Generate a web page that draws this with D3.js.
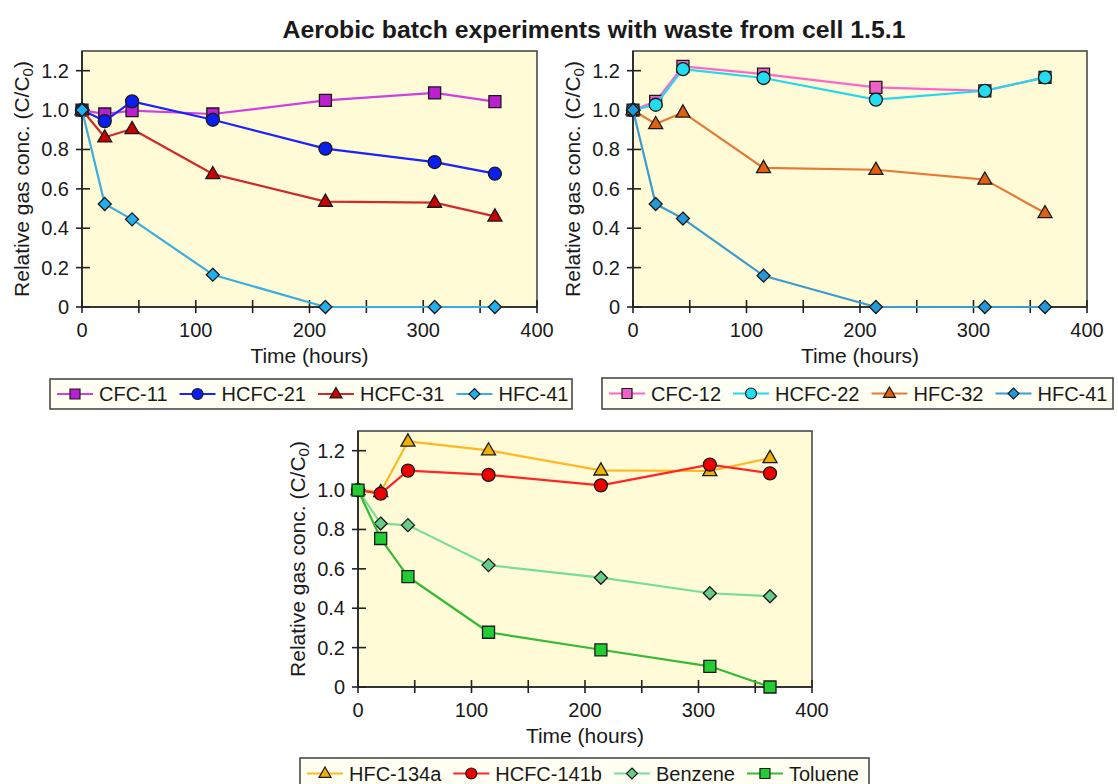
<!DOCTYPE html>
<html>
<head>
<meta charset="utf-8">
<script src="https://cdn.jsdelivr.net/npm/d3@7"></script>
<style>
  body { margin: 0; background: #fff; }
  svg { display: block; font-family: "Liberation Sans", Arial, sans-serif; }
</style>
</head>
<body>
<svg id="chart" width="1118" height="784"></svg>
<script>
// ---- data -------------------------------------------------------------
const hours = [0, 20, 44, 115, 214, 310, 363];
const xTicks = [0, 100, 200, 300, 400];
const xMinorTicks = [50, 150, 250, 350];
const yTicks = [0, 0.2, 0.4, 0.6, 0.8, 1.0, 1.2];
const yTickLabels = ["0", "0.2", "0.4", "0.6", "0.8", "1.0", "1.2"];

const cfc11   = [1.0, 0.98, 0.997, 0.98, 1.049, 1.087, 1.043];
const hcfc21  = [1.0, 0.944, 1.044, 0.951, 0.804, 0.736, 0.677];
const hcfc31  = [1.0, 0.862, 0.904, 0.675, 0.535, 0.53, 0.46];
const hfc41a  = [1.0, 0.523, 0.445, 0.164, 0, 0, 0];

const cfc12   = [1.0, 1.044, 1.222, 1.183, 1.115, 1.098, 1.166];
const hcfc22  = [1.0, 1.027, 1.208, 1.163, 1.053, 1.098, 1.166];
const hfc32   = [1.0, 0.929, 0.988, 0.706, 0.697, 0.647, 0.477];
const hfc41b  = [1.0, 0.523, 0.449, 0.159, 0, 0, 0];

const hfc134a = [1.0, 0.99, 1.247, 1.202, 1.10, 1.097, 1.163];
const hcfc141b= [1.0, 0.982, 1.099, 1.077, 1.024, 1.129, 1.085];
const benzene = [1.0, 0.830, 0.822, 0.619, 0.555, 0.476, 0.461];
const toluene = [1.0, 0.754, 0.560, 0.278, 0.189, 0.105, 0.0];

const titleText = "Aerobic batch experiments with waste from cell 1.5.1";

// ---- layout and styles -------------------------------------------------
const panels = [
  {
    frame: { left: 82, right: 537, bottom: 307, top: 51 },
    legend: { x: 50, y: 379, w: 522, h: 30 },
    series: [
      { name: "CFC-11",  values: cfc11,  line: "#d040e0", fill: "#bb1fd0", shape: "square" },
      { name: "HCFC-21", values: hcfc21, line: "#1a22ff", fill: "#0a1ef0", shape: "circle" },
      { name: "HCFC-31", values: hcfc31, line: "#d02a2a", fill: "#c80000", shape: "triangle" },
      { name: "HFC-41",  values: hfc41a, line: "#3aaee0", fill: "#1fb0f0", shape: "diamond" }
    ]
  },
  {
    frame: { left: 633, right: 1087, bottom: 307, top: 51 },
    legend: { x: 602, y: 378, w: 511, h: 31 },
    series: [
      { name: "CFC-12",  values: cfc12,  line: "#ff66cc", fill: "#ee5fc8", shape: "square" },
      { name: "HCFC-22", values: hcfc22, line: "#22d8ee", fill: "#22dcf0", shape: "circle" },
      { name: "HFC-32",  values: hfc32,  line: "#e57a35", fill: "#e06010", shape: "triangle" },
      { name: "HFC-41",  values: hfc41b, line: "#3a9cd0", fill: "#2299dd", shape: "diamond" }
    ]
  },
  {
    frame: { left: 358, right: 812, bottom: 687, top: 431 },
    legend: { x: 300, y: 758, w: 569, h: 31 },
    series: [
      { name: "HFC-134a",  values: hfc134a,  line: "#ffb820", fill: "#f0b000", shape: "triangle" },
      { name: "HCFC-141b", values: hcfc141b, line: "#ff2626", fill: "#ee0000", shape: "circle" },
      { name: "Benzene",   values: benzene,  line: "#77dd99", fill: "#66cc88", shape: "diamond" },
      { name: "Toluene",   values: toluene,  line: "#33bb33", fill: "#22cc33", shape: "square" }
    ]
  }
];

const svg = d3.select("#chart");
const tickFont = 20;
const titleFont = 21;
const ink = "#1a1a1a";

function markerPath(shape, s) {
  // s = nominal marker size in px
  const p = d3.path();
  if (shape === "square") {
    const h = s / 2;
    p.rect(-h, -h, s, s);
  } else if (shape === "circle") {
    p.arc(0, 0, s / 2 + 0.5, 0, 2 * Math.PI);
  } else if (shape === "triangle") {
    const w = s + 2, h = w * 0.87;
    p.moveTo(0, -h * 0.62); p.lineTo(w / 2, h * 0.38); p.lineTo(-w / 2, h * 0.38); p.closePath();
  } else if (shape === "diamond") {
    const r = s / 2 + 0.5;
    p.moveTo(0, -r); p.lineTo(r, 0); p.lineTo(0, r); p.lineTo(-r, 0); p.closePath();
  }
  return p.toString();
}

// ---- title -------------------------------------------------------------
svg.append("text")
  .attr("x", 594).attr("y", 38)
  .attr("text-anchor", "middle")
  .attr("font-size", 24.8).attr("font-weight", "bold")
  .attr("fill", ink)
  .text(titleText);

// ---- panels ------------------------------------------------------------
panels.forEach(panel => {
  const f = panel.frame;
  const x = d3.scaleLinear().domain([0, 400]).range([f.left, f.right]);
  const y = d3.scaleLinear().domain([0, 1.3]).range([f.bottom, f.top]);
  const g = svg.append("g");

  // plot area
  g.append("rect")
    .attr("x", f.left).attr("y", f.top)
    .attr("width", f.right - f.left).attr("height", f.bottom - f.top)
    .attr("fill", "#fffbd6").attr("stroke", "#4a4a4a").attr("stroke-width", 1.6);

  // x axis (ticks cross the axis line)
  const xAxis = g.append("g");
  xAxis.append("line")
    .attr("x1", f.left).attr("x2", f.right).attr("y1", f.bottom).attr("y2", f.bottom)
    .attr("stroke", "#222").attr("stroke-width", 1.6);
  xAxis.selectAll("line.tick").data(xTicks.concat(xMinorTicks)).join("line")
    .attr("class", "tick")
    .attr("x1", d => x(d)).attr("x2", d => x(d))
    .attr("y1", f.bottom - 7).attr("y2", f.bottom + 6)
    .attr("stroke", "#222").attr("stroke-width", 1.6);
  xAxis.selectAll("text").data(xTicks).join("text")
    .attr("x", d => x(d)).attr("y", f.bottom + 30)
    .attr("text-anchor", "middle").attr("font-size", tickFont).attr("fill", ink)
    .text(d => d);

  // y axis
  const yAxis = g.append("g");
  yAxis.append("line")
    .attr("x1", f.left).attr("x2", f.left).attr("y1", f.top).attr("y2", f.bottom)
    .attr("stroke", "#222").attr("stroke-width", 1.6);
  yAxis.selectAll("line.tick").data(yTicks).join("line")
    .attr("class", "tick")
    .attr("x1", f.left - 6).attr("x2", f.left + 8)
    .attr("y1", d => y(d)).attr("y2", d => y(d))
    .attr("stroke", "#222").attr("stroke-width", 1.6);
  yAxis.selectAll("text").data(yTicks).join("text")
    .attr("x", f.left - 13).attr("y", d => y(d)).attr("dy", "0.35em")
    .attr("text-anchor", "end").attr("font-size", tickFont).attr("fill", ink)
    .text((d, i) => yTickLabels[i]);

  // axis titles
  g.append("text")
    .attr("x", (f.left + f.right) / 2).attr("y", f.bottom + 56)
    .attr("text-anchor", "middle").attr("font-size", titleFont).attr("fill", ink)
    .text("Time (hours)");
  const yt = g.append("text")
    .attr("transform", `translate(${f.left - 53},${(f.top + f.bottom) / 2}) rotate(-90)`)
    .attr("text-anchor", "middle").attr("font-size", titleFont).attr("fill", ink);
  yt.append("tspan").text("Relative gas conc. (C/C");
  yt.append("tspan").attr("font-size", 15).attr("dy", 4).text("0");
  yt.append("tspan").attr("dy", -4).text(")");

  // series: straight line segments, then markers
  const lineGen = d3.line()
    .x((d, i) => x(hours[i]))
    .y(d => y(d));

  panel.series.forEach(s => {
    g.append("path")
      .attr("d", lineGen(s.values))
      .attr("fill", "none").attr("stroke", s.line).attr("stroke-width", 2.2)
      .attr("stroke-linejoin", "round");
    g.append("g").selectAll("path").data(s.values).join("path")
      .attr("transform", (d, i) => `translate(${x(hours[i])},${y(d)})`)
      .attr("d", markerPath(s.shape, 12))
      .attr("fill", s.fill).attr("stroke", "#1a1a1a").attr("stroke-width", 1.3);
  });

  // legend
  const L = panel.legend;
  const lg = svg.append("g");
  lg.append("rect")
    .attr("x", L.x).attr("y", L.y).attr("width", L.w).attr("height", L.h)
    .attr("fill", "#fffff4").attr("stroke", "#4a4a4a").attr("stroke-width", 1.6);
  let cx = L.x + 7;
  const cy = L.y + L.h / 2;
  panel.series.forEach(s => {
    lg.append("line")
      .attr("x1", cx).attr("x2", cx + 36).attr("y1", cy).attr("y2", cy)
      .attr("stroke", s.line).attr("stroke-width", 2.2);
    lg.append("path")
      .attr("transform", `translate(${cx + 18},${cy})`)
      .attr("d", markerPath(s.shape, 10))
      .attr("fill", s.fill).attr("stroke", "#1a1a1a").attr("stroke-width", 1.2);
    const t = lg.append("text")
      .attr("x", cx + 42).attr("y", cy).attr("dy", "0.35em")
      .attr("font-size", tickFont).attr("fill", ink)
      .text(s.name);
    cx += 42 + t.node().getComputedTextLength() + 12;
  });
});
</script>
</body>
</html>
